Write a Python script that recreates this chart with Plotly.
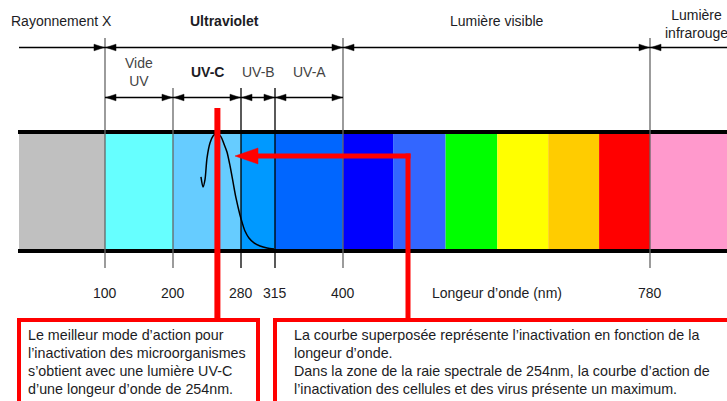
import numpy as np
import plotly.graph_objects as go

# ---------------- data ----------------
# wavelength scale knots (nm) and the diagram axis position of each knot
SCALE_WL = [10, 100, 200, 280, 315, 400, 780, 1000]
SCALE_POS = [19, 105, 173, 241, 275, 343, 650, 727]

BAND_START = [10, 100, 200, 280, 315, 400, 462, 527, 591, 654, 717, 780]
BAND_END = [100, 200, 280, 315, 400, 462, 527, 591, 654, 717, 780, 1000]
BAND_COLORS = ["#C0C0C0", "#66FFFF", "#66CCFF", "#0099FF", "#0066FF", "#0000FF",
               "#3366FF", "#00FF00", "#FFFF00", "#FFCC00", "#FF0000", "#FF99CC"]

TICK_WL = [100, 200, 280, 315, 400, 780]
TICK_TEXT = ["100", "200", "280", "315", "400", "780"]
AXIS_TITLE = "Longeur d’onde (nm)"

MAIN_REGIONS = ["Rayonnement X", "<b>Ultraviolet</b>", "Lumière visible", "Lumière<br>infrarouge"]
MAIN_START = [10, 100, 400, 780]
MAIN_END = [100, 400, 780, 1000]

UV_REGIONS = ["Vide<br>UV", "<b>UV-C</b>", "UV-B", "UV-A"]
UV_START = [100, 200, 280, 315]
UV_END = [200, 280, 315, 400]

# inactivation (action) curve: wavelength nm, relative inactivation 0..1
CURVE_WL = [232.9, 235.3, 237.6, 240.0, 243.5, 247.1, 251.8, 256.5, 260.0, 263.5,
            267.1, 270.6, 274.1, 278.8, 281.0, 284.1, 288.2, 293.4, 299.6, 306.8, 314.0]
CURVE_VAL = [0.621, 0.534, 0.595, 0.784, 0.914, 0.974, 1.0, 0.966, 0.905, 0.836,
             0.716, 0.578, 0.44, 0.293, 0.233, 0.155, 0.095, 0.052, 0.026, 0.009, 0.0]

PEAK_WL = 254

BOX1_LINES = ["Le meilleur mode d’action pour",
              "l’inactivation des microorganismes",
              "s’obtient avec une lumière UV-C",
              "d’une longeur d’onde de 254nm."]
BOX2_LINES = ["La courbe superposée représente l’inactivation en fonction de la",
              "longeur d’onde.",
              "Dans la zone de la raie spectrale de 254nm, la courbe d’action de",
              "l’inactivation des cellules et des virus présente un maximum."]


def wl_to_x(w):
    return np.interp(w, SCALE_WL, SCALE_POS)


# ---------------- layout constants ----------------
W, H = 727, 401
BAND_TOP, BAND_BOT = 133, 250
FONT = "Liberation Sans, Arial, sans-serif"
TXT = "#1c1c24"
SUB = "#444444"
RED = "#FF0000"

shapes = []
annotations = []

# spectrum bands
for s, e, c in zip(BAND_START, BAND_END, BAND_COLORS):
    shapes.append(dict(type="rect", x0=wl_to_x(s), x1=wl_to_x(e), y0=BAND_TOP, y1=BAND_BOT,
                       fillcolor=c, line=dict(width=0), layer="below"))

# band border lines
for yy in (132, 251):
    shapes.append(dict(type="line", x0=18, x1=W + 5, y0=yy, y1=yy, line=dict(color="black", width=4)))

# boundary vertical lines
for w in [100, 200, 280, 315, 400, 780]:
    top = 38 if w in (100, 400, 780) else 88
    col = "black" if w in (280, 315) else "#666666"
    shapes.append(dict(type="line", x0=wl_to_x(w), x1=wl_to_x(w), y0=top, y1=268,
                       line=dict(color=col, width=1.3)))


def arrowhead(xtip, y, direction, length=10, half=3.3, color="black"):
    xb = xtip - direction * length
    shapes.append(dict(type="path",
                       path=f"M{xtip},{y} L{xb},{y - half} L{xb},{y + half} Z",
                       fillcolor=color, line=dict(color=color, width=0.5)))


def dim_arrow(ws, we, y, start_head=True, end_head=True):
    x0, x1 = wl_to_x(ws), wl_to_x(we)
    shapes.append(dict(type="line", x0=x0, x1=x1 + (5 if we >= 1000 else 0), y0=y, y1=y,
                       line=dict(color="black", width=1.3)))
    if start_head:
        arrowhead(x0 + 1, y, -1)
    if end_head:
        arrowhead(x1 - 1, y, 1)


# top row arrows
for s, e in zip(MAIN_START, MAIN_END):
    dim_arrow(s, e, 47.5, start_head=(s != 10), end_head=(e != 1000))
# UV row arrows
for s, e in zip(UV_START, UV_END):
    dim_arrow(s, e, 97.5)

# labels
main_y = [21, 21, 21, 24]
for lab, s, e, yy in zip(MAIN_REGIONS, MAIN_START, MAIN_END, main_y):
    cx = (wl_to_x(s) + wl_to_x(e)) / 2
    if e == 1000:
        cx = 696
    if s == 10:
        cx = 61
    annotations.append(dict(x=cx, y=yy, text=lab, showarrow=False, xanchor="center", yanchor="middle",
                            font=dict(family=FONT, size=14, color=TXT)))
uv_y = [72, 72, 72, 72]
for lab, s, e, yy in zip(UV_REGIONS, UV_START, UV_END, uv_y):
    cx = (wl_to_x(s) + wl_to_x(e)) / 2
    col = TXT if "UV-C" in lab else SUB
    annotations.append(dict(x=cx, y=yy, text=lab, showarrow=False, xanchor="center", yanchor="middle",
                            font=dict(family=FONT, size=14, color=col)))

# tick labels
for w, t in zip(TICK_WL, TICK_TEXT):
    annotations.append(dict(x=wl_to_x(w), y=293, text=t, showarrow=False, xanchor="center",
                            yanchor="middle", font=dict(family=FONT, size=14, color=TXT)))
annotations.append(dict(x=497, y=293, text=AXIS_TITLE, showarrow=False, xanchor="center",
                        yanchor="middle", font=dict(family=FONT, size=14, color=TXT)))

# red vertical at peak
xp = wl_to_x(PEAK_WL) - 1.5
shapes.append(dict(type="line", x0=xp, x1=xp, y0=108, y1=322, line=dict(color=RED, width=6)))

# red elbow arrow
shapes.append(dict(type="line", x0=408, x1=408, y0=153.5, y1=322, line=dict(color=RED, width=5)))
shapes.append(dict(type="line", x0=255, x1=410.5, y0=156, y1=156, line=dict(color=RED, width=5)))
arrowhead(235, 156, -1, length=23, half=8, color=RED)

# red boxes
shapes.append(dict(type="rect", x0=19, x1=258, y0=320, y1=H + 10, line=dict(color=RED, width=4)))
shapes.append(dict(type="rect", x0=275, x1=W + 10, y0=320, y1=H + 10, line=dict(color=RED, width=4)))

line_y = [335, 353, 371, 388.5]
for txt, yy in zip(BOX1_LINES, line_y):
    annotations.append(dict(x=26, y=yy, text=txt, showarrow=False, xanchor="left", yanchor="middle",
                            font=dict(family=FONT, size=14.3, color=TXT)))
for txt, yy in zip(BOX2_LINES, line_y):
    annotations.append(dict(x=292, y=yy, text=txt, showarrow=False, xanchor="left", yanchor="middle",
                            font=dict(family=FONT, size=14.3, color=TXT)))

fig = go.Figure()
fig.add_trace(go.Scatter(
    x=wl_to_x(CURVE_WL),
    y=[BAND_BOT - 1 - v * (BAND_BOT - 1 - BAND_TOP) for v in CURVE_VAL],
    mode="lines", line=dict(color="black", width=1.5, shape="spline", smoothing=0.8),
    hoverinfo="skip", showlegend=False))

fig.update_layout(
    width=W, height=H, margin=dict(l=0, r=0, t=0, b=0),
    paper_bgcolor="white", plot_bgcolor="white",
    xaxis=dict(range=[0, W], visible=False, fixedrange=True),
    yaxis=dict(range=[H, 0], visible=False, fixedrange=True),
    shapes=shapes, annotations=annotations, showlegend=False,
)

fig.write_html("out.html", config={"displayModeBar": False},
               post_script="document.body.style.margin='0';document.body.style.overflow='hidden';")
